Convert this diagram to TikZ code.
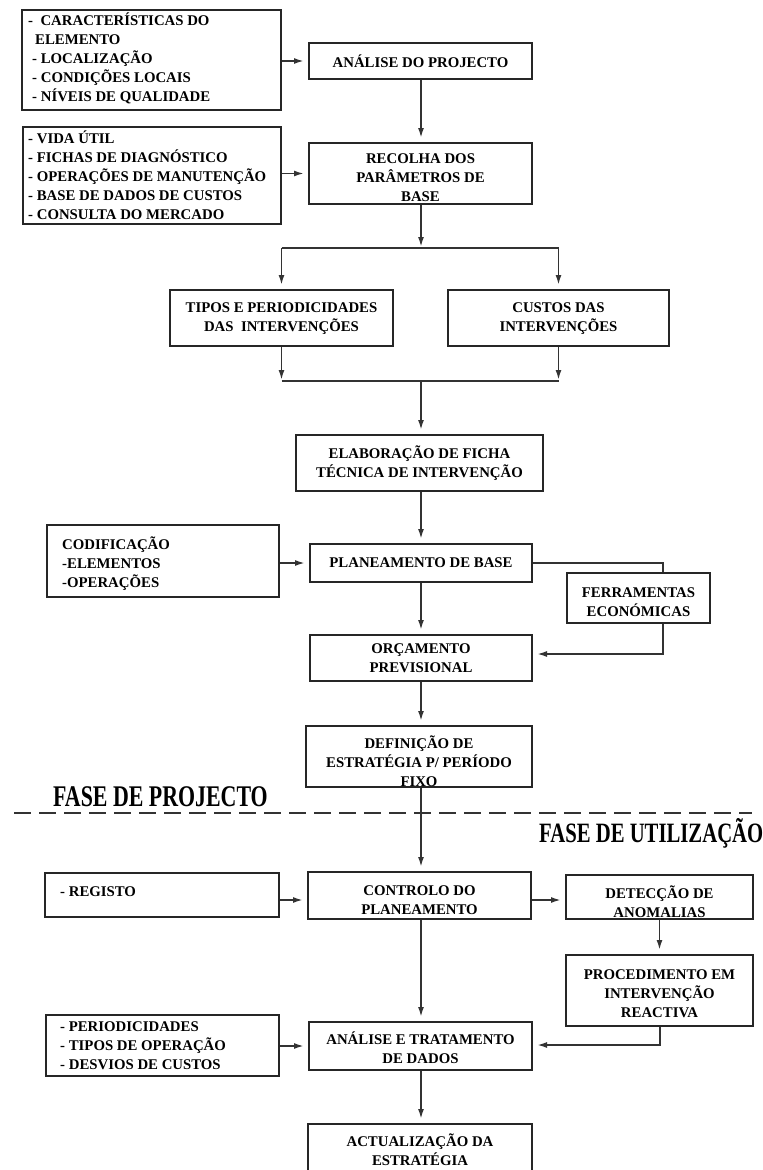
\documentclass[tikz,border=0pt]{standalone}
\usepackage{fontspec}
\setmainfont{Liberation Serif}
\usetikzlibrary{arrows.meta}
\tikzset{
  boxst/.style={draw=black!85, line width=2pt, rectangle, inner sep=0pt},
  txt/.style={inner sep=0pt, text=black, font=\bfseries\fontsize{14.8}{19}\selectfont},
  ln/.style={draw=black!80, line width=1.8pt},
  arr/.style={ln, -{Latex[length=10pt,width=6pt]}, shorten >=4pt},
  arrl/.style={ln, -{Latex[length=10pt,width=6pt]}, shorten >=1pt},
  dashst/.style={draw=black!80, line width=2pt, dash pattern=on 17pt off 8pt},
  fase/.style={inner sep=0pt, text=black, font=\bfseries\fontsize{30}{32}\selectfont}
}
% name, cx, cy, w, h, dy, text
\newcommand{\cbox}[7]{%
  \node[boxst, minimum width=#4pt, minimum height=#5pt] (#1) at (#2,#3) {};
  \node[txt, align=center] (#1-t) at ([yshift=-#6pt]#1.center) {#7};
}
% name, cx, cy, w, h, textx, dy, text
\newcommand{\lbox}[8]{%
  \node[boxst, minimum width=#4pt, minimum height=#5pt] (#1) at (#2,#3) {};
  \node[txt, align=left, anchor=west] (#1-t) at (#6,#3+#7) {#8};
}
\begin{document}
\begin{tikzpicture}[x=1pt, y=-1pt]
\useasboundingbox (0,0) rectangle (763,1170);
\clip (0,0) rectangle (763,1170);
\coordinate (spine) at (421,0);

% left input boxes
\lbox{b1}{151.5}{60}{259}{100}{28}{-2}{-\ \ CARACTERÍSTICAS DO\\\hspace*{7pt}ELEMENTO\\\hspace*{4pt}- LOCALIZAÇÃO\\\hspace*{4pt}- CONDIÇÕES LOCAIS\\\hspace*{4pt}- NÍVEIS DE QUALIDADE}
\lbox{b2}{152}{175.5}{258}{97}{28}{0}{- VIDA ÚTIL\\- FICHAS DE DIAGNÓSTICO\\- OPERAÇÕES DE MANUTENÇÃO\\- BASE DE DADOS DE CUSTOS\\- CONSULTA DO MERCADO}
\lbox{cod}{163}{561}{232}{72}{62}{3}{CODIFICAÇÃO\\-ELEMENTOS\\-OPERAÇÕES}
\lbox{reg}{162}{895}{234}{44}{60}{-3}{- REGISTO}
\lbox{per}{162.5}{1045.5}{233}{61}{60}{0}{- PERIODICIDADES\\- TIPOS DE OPERAÇÃO\\- DESVIOS DE CUSTOS}

% main boxes
\cbox{ana}{420.5}{61}{223}{36}{0}{ANÁLISE DO PROJECTO}
\cbox{rec}{420.5}{173.5}{223}{61}{4}{RECOLHA DOS\\PARÂMETROS DE\\BASE}
\cbox{tip}{281.5}{318}{223}{56}{1}{TIPOS E PERIODICIDADES\\DAS\ \ INTERVENÇÕES}
\cbox{cus}{558.5}{318}{221}{56}{1}{CUSTOS DAS\\INTERVENÇÕES}
\cbox{ela}{419.5}{463}{247}{56}{0}{ELABORAÇÃO DE FICHA\\TÉCNICA DE INTERVENÇÃO}
\cbox{pla}{421}{563}{222}{38}{0}{PLANEAMENTO DE BASE}
\cbox{fer}{638.5}{598}{143}{50}{4}{FERRAMENTAS\\ECONÓMICAS}
\cbox{orc}{421}{658}{222}{46}{0}{ORÇAMENTO\\PREVISIONAL}
\cbox{def}{419}{756.5}{226}{61}{4.5}{DEFINIÇÃO DE\\ESTRATÉGIA P/ PERÍODO\\FIXO}
\cbox{ctl}{419.5}{895.5}{223}{47}{4.5}{CONTROLO DO\\PLANEAMENTO}
\cbox{det}{659.5}{897}{187}{44}{5}{DETECÇÃO DE\\ANOMALIAS}
\cbox{pro}{659.5}{990.5}{187}{71}{3.5}{PROCEDIMENTO EM\\INTERVENÇÃO\\REACTIVA}
\cbox{atd}{420.5}{1046}{223}{48}{1.5}{ANÁLISE E TRATAMENTO\\DE DADOS}
\cbox{act}{420}{1149.5}{224}{51}{0}{ACTUALIZAÇÃO DA\\ESTRATÉGIA}

% phase separator
\draw[dashst] (14,813) -- (752,813);
\node[fase, anchor=base west] (fp) at (53,806) {\scalebox{0.73}[1]{FASE DE PROJECTO}};
\node[fase, anchor=base west, font=\bfseries\fontsize{28}{30}\selectfont] (fu) at (539,842) {\scalebox{0.74}[1]{FASE DE UTILIZAÇÃO}};

% connectors
\draw[arr] (b1.east |- ana) -- (ana.west);
\draw[arr] (b2.east |- rec) -- (rec.west);
\draw[arr] (spine |- ana.south) -- (spine |- rec.north);
\coordinate (sp) at (421,248);
\draw[arrl] (spine |- rec.south) -- (sp);
\draw[ln] (tip.north |- sp) -- (cus.north |- sp);
\draw[arr] (tip.north |- sp) -- (tip.north);
\draw[arr] (cus.north |- sp) -- (cus.north);
\coordinate (mg) at (421,381);
\draw[arrl] (tip.south) -- (tip.south |- mg);
\draw[arrl] (cus.south) -- (cus.south |- mg);
\draw[ln] (tip.south |- mg) -- (cus.south |- mg);
\draw[arr] (mg) -- (spine |- ela.north);
\draw[arr] (spine |- ela.south) -- (spine |- pla.north);
\draw[arr] (cod.east |- pla) -- (pla.west);
\coordinate (fx) at (663,563);
\coordinate (fy) at (663,654);
\draw[ln] (pla.east) -- (fx) -- (fx |- fer.north);
\draw[arr] (fx |- fer.south) -- (fy) -- (orc.east |- fy);
\draw[arr] (spine |- pla.south) -- (spine |- orc.north);
\draw[arr] (spine |- orc.south) -- (spine |- def.north);
\draw[arr] (spine |- def.south) -- (spine |- ctl.north);
\coordinate (cy) at (0,900);
\draw[arr] (reg.east |- cy) -- (ctl.west |- cy);
\draw[arr] (ctl.east |- cy) -- (det.west |- cy);
\draw[arr] (spine |- ctl.south) -- (spine |- atd.north);
\draw[arr] (det.south) -- (pro.north);
\coordinate (px) at (660,1045);
\draw[arr] (pro.south -| px) -- (px) -- (atd.east |- px);
\draw[arr] (per.east |- atd) -- (atd.west);
\draw[arr] (spine |- atd.south) -- (spine |- act.north);
\end{tikzpicture}
\end{document}
